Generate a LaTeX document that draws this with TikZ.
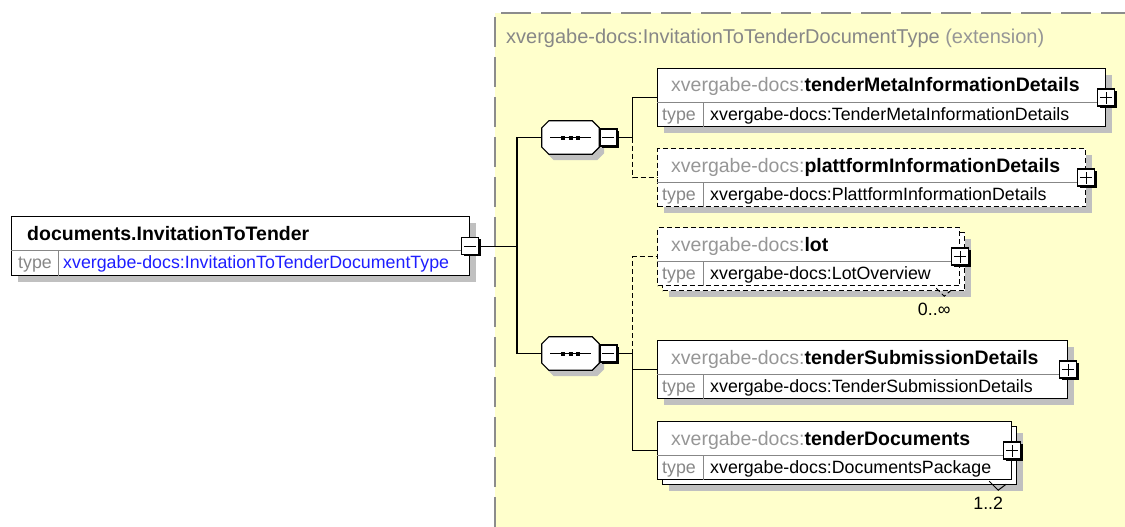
\documentclass[tikz,border=0pt]{standalone}
\usepackage{fontspec}
\setmainfont{Liberation Sans}
\usepackage{tikz}
\usetikzlibrary{positioning,calc,shadows}

\definecolor{extbg}{RGB}{255,255,204}
\definecolor{extline}{RGB}{140,140,140}
\definecolor{nsgrey}{RGB}{150,150,150}
\definecolor{typegrey}{RGB}{135,135,135}
\definecolor{shadowgrey}{RGB}{192,192,192}
\definecolor{typeblue}{RGB}{30,30,255}

\begin{document}
\begin{tikzpicture}[x=1pt,y=-1pt,
  box/.style={draw,line width=1.2pt,fill=white,anchor=north west,inner sep=0,minimum height=58pt},
  elem/.style={box,drop shadow={shadow xshift=6pt,shadow yshift=-6pt,fill=shadowgrey,opacity=1}},
  optdash/.style={dash pattern=on 5pt off 3pt},
  ttl/.style={anchor=base west,inner sep=0,font=\fontsize{19.5}{23}\selectfont},
  typ/.style={anchor=base west,inner sep=0,font=\fontsize{17.8}{21}\selectfont},
  rowsep/.style={typegrey,line width=0.8pt},
  pmbox/.style={draw,fill=white,line width=1.4pt,minimum size=17pt,inner sep=0,
    drop shadow={shadow xshift=1.8pt,shadow yshift=-1.8pt,fill=black,opacity=1}},
  minusbox/.style={pmbox,path picture={\draw[line width=1.2pt]
    ([xshift=-6pt]path picture bounding box.center) -- ([xshift=6pt]path picture bounding box.center);}},
  plusbox/.style={pmbox,path picture={\draw[line width=1.2pt]
    ([xshift=-6pt]path picture bounding box.center) -- ([xshift=6pt]path picture bounding box.center)
    ([yshift=-6pt]path picture bounding box.center) -- ([yshift=6pt]path picture bounding box.center);}},
  seq/.style={minimum width=57pt,minimum height=33pt,inner sep=0},
  octo/.style={draw,line width=1.2pt,fill=white,
    drop shadow={shadow xshift=5pt,shadow yshift=-6pt,fill=shadowgrey,opacity=1}},
  conn/.style={line width=1.2pt},
  mult/.style={font=\fontsize{17.8}{21}\selectfont,inner sep=0}
]
\useasboundingbox (0,0) rectangle (1125,527);
\fill[extbg] (495,13) rectangle (1125,527);
\draw[extline,line width=2pt,dash pattern=on 30pt off 10pt] (495,527) -- (495,13) -- (1125,13);
\node[anchor=base west,inner sep=0,font=\fontsize{20}{24}\selectfont] (exttitle) at (506,44)
  {\textcolor{typegrey}{xvergabe-docs:InvitationToTenderDocumentType} \textcolor{nsgrey}{(extension)}};

\node[elem,minimum width=458pt,minimum height=59pt] (main) at (11,216) {};
\draw[rowsep] ($(main.north west)+(0,34)$) -- ($(main.north east)+(0,34)$);
\draw[rowsep] ($(main.north west)+(47,34)$) -- ($(main.south west)+(47,0)$);
\node[ttl] (main-ttl) at ($(main.north west)+(16,24)$) {\textbf{documents.InvitationToTender}};
\node[typ,text=typegrey] (main-key) at ($(main.north west)+(7,52)$) {type};
\node[typ,text=typeblue] (main-typ) at ($(main.north west)+(52,52)$) {xvergabe-docs:InvitationToTenderDocumentType};
\node[minusbox] (mainpm) at (main.east) {};
\coordinate (bra) at (517,246);

\node[seq] (seqA) at (570.5,137.5) {};
\node[seq] (seqB) at (570.5,353.5) {};
\foreach \s in {seqA,seqB}{
  \draw[octo] ($(\s.north west)+(7,0)$) -- ($(\s.north east)+(-7,0)$) -- ($(\s.north east)+(0,7)$)
    -- ($(\s.south east)+(0,-7)$) -- ($(\s.south east)+(-7,0)$) -- ($(\s.south west)+(7,0)$)
    -- ($(\s.south west)+(0,-7)$) -- ($(\s.north west)+(0,7)$) -- cycle;
  \draw[line width=1.2pt] ($(\s.center)+(-20.5,0)$) -- ($(\s.center)+(20.5,0)$);
  \draw[line width=4pt,dash pattern=on 4pt off 3.5pt] ($(\s.center)+(-9.5,0)$) -- ($(\s.center)+(9.5,0)$);
}
\node[minusbox,right=0pt of seqA] (seqApm) {};
\node[minusbox,right=0pt of seqB] (seqBpm) {};
\coordinate (brA) at ($(seqApm.east)+(15,0)$);
\coordinate (brB) at ($(seqBpm.east)+(15,0)$);

\node[elem,minimum width=448pt] (meta) at (657,68) {};
\node[elem,optdash,minimum width=428pt] (platt) at (657,148) {};
\node[elem,optdash,minimum width=302pt] (lotB) at (662,232) {};
\node[box,optdash,minimum width=302pt] (lot) at (657,227) {};
\node[elem,minimum width=410pt] (subm) at (657,340) {};
\node[elem,minimum width=354pt] (docsB) at (662,426) {};
\node[box,minimum width=354pt] (docs) at (657,421) {};

\foreach \b/\nm/\ty in {meta/tenderMetaInformationDetails/TenderMetaInformationDetails,
    platt/plattformInformationDetails/PlattformInformationDetails,
    lot/lot/LotOverview,
    subm/tenderSubmissionDetails/TenderSubmissionDetails,
    docs/tenderDocuments/DocumentsPackage}{
  \draw[rowsep] ($(\b.north west)+(0,34)$) -- ($(\b.north east)+(0,34)$);
  \draw[rowsep] ($(\b.north west)+(46,34)$) -- ($(\b.south west)+(46,0)$);
  \node[ttl] (\b-ttl) at ($(\b.north west)+(14,24)$) {\textcolor{nsgrey}{xvergabe-docs:}\textbf{\nm}};
  \node[typ,text=typegrey] (\b-key) at ($(\b.north west)+(5,52)$) {type};
  \node[typ] (\b-typ) at ($(\b.north west)+(53,52)$) {xvergabe-docs:\ty};
  \node[plusbox] (\b-pm) at (\b.east) {};
}

\draw[line width=1pt,optdash] ($(lotB.south east)+(-29,-3)$) -- ($(lotB.south east)+(-21,5)$) -- ($(lotB.south east)+(-14,-1)$);
\node[mult] (lotmult) at ($(lotB.south east)+(-31,18)$) {0..∞};
\draw[line width=1pt] ($(docsB.south east)+(-28,-4)$) -- ($(docsB.south east)+(-19,5)$) -- ($(docsB.south east)+(-11,-1)$);
\node[mult] (docsmult) at ($(docsB.south east)+(-29,18)$) {1..2};

\draw[conn] (mainpm.east) -- (mainpm.east -| bra);
\draw[conn] (seqA.west) -| (bra) |- (seqB.west);
\draw[conn] (seqApm.east) -- (brA) |- (meta.west);
\draw[conn,optdash] (brA) |- (platt.west);
\draw[conn] (seqBpm.east) -- (brB) |- (subm.west);
\draw[conn] (brB) |- (docs.west);
\draw[conn,optdash] (brB) |- (lot.west);
\end{tikzpicture}
\end{document}
